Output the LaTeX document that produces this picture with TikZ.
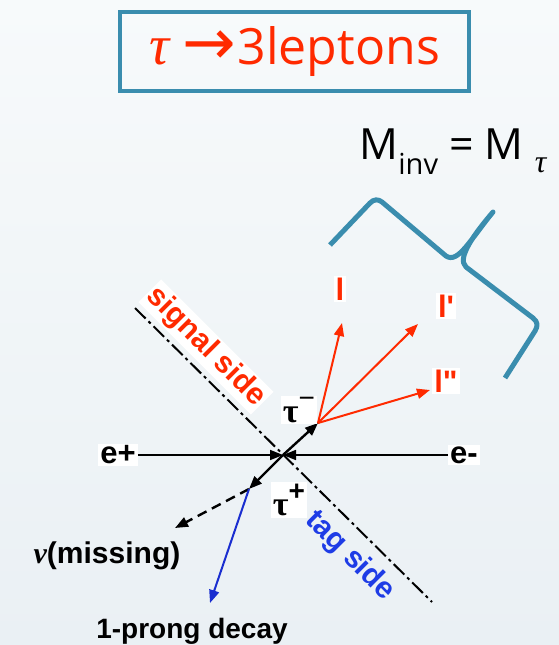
\documentclass[tikz,border=0pt]{standalone}
\usepackage{fontspec}
\setmainfont{Liberation Sans}[Ligatures=TeXOff]
\newfontfamily\titlefont{Open Sans}
\newfontfamily\greekfont{Liberation Serif}
\newfontfamily\arrowfont{DejaVu Sans}
\usetikzlibrary{arrows.meta}
\definecolor{boxblue}{HTML}{3A8DAE}
\definecolor{lepred}{HTML}{FF2A00}
\definecolor{tagblue}{HTML}{1E3CE6}
\definecolor{prongblue}{HTML}{1A2ED0}
\definecolor{bgtop}{HTML}{F7FAFB}
\definecolor{bgbot}{HTML}{EAF0F4}

\begin{document}
\begin{tikzpicture}[x=1pt,y=-1pt,>={Triangle[length=13pt,width=10pt]},
  lbl/.style={font=\fontsize{31}{33}\selectfont\bfseries,inner sep=2pt},
  wlbl/.style={lbl,fill=white},
  beam/.style={line width=1.6pt,->},
  tauarr/.style={line width=2.4pt,->},
  leparr/.style={line width=2pt,->,lepred},
  sideline/.style={line width=2pt,dash pattern=on 15pt off 4pt on 3pt off 4pt}]
\useasboundingbox (0,0) rectangle (559,645);
\fill[top color=bgtop,bottom color=bgbot] (0,0) rectangle (559,645);
% title and invariant mass
\node[draw=boxblue,line width=4pt,minimum width=349pt,minimum height=79pt,
  text=lepred,font=\titlefont\fontsize{50}{50}\selectfont] (title) at (294.5,51.5)
  {{\greekfont\itshape\fontsize{56}{56}\selectfont τ} {\arrowfont\fontsize{64}{64}\selectfont →}\hspace{2pt}3leptons};
\node[font=\titlefont\fontsize{43}{43}\selectfont] (minv) at (453,152)
  {M\raisebox{-0.35em}{\fontsize{29}{29}\selectfont inv} = M \raisebox{-0.3em}{\greekfont\itshape\fontsize{32}{32}\selectfont τ}};
\draw[boxblue,line width=5pt,line join=round]
  (330,245) -- (370,203) .. controls (374,199) and (378,199) .. (382,202)
  -- (446,256) .. controls (458,264) and (470,240) .. (493,212)
  .. controls (476,232) and (456,258) .. (466,267)
  -- (533,318) .. controls (538,322) and (538,326) .. (535,331) -- (505,378);
% the two sides
\draw[sideline] (135,308) -- (432,602);
\node[lbl,fill=white,text=lepred,rotate=-45,font=\fontsize{30}{32}\selectfont\bfseries] (sig) at (206,347) {signal side};
\node[lbl,text=tagblue,rotate=-45,font=\fontsize{30}{32}\selectfont\bfseries] (tag) at (350,556) {tag side};
% beams
\coordinate (ip) at (283,455);
\node[wlbl] (ep) at (118,455) {e+};
\node[wlbl] (em) at (464,455) {e-};
\draw[beam] (ep.east) -- (ip);
\draw[beam] (em.west) -- (ip);
% tau pair
\coordinate (taumtip) at (318,423);
\coordinate (tauptip) at (249,489);
\draw[tauarr] (ip) -- (taumtip);
\draw[tauarr] (ip) -- (tauptip);
\node[wlbl,font=\fontsize{34}{34}\selectfont] (taum) at (299,410)
  {{\greekfont\bfseries τ}\raisebox{0.42em}{\fontsize{28}{28}\selectfont −}};
\node[wlbl,font=\fontsize{34}{34}\selectfont] (taup) at (289,500)
  {{\greekfont\bfseries τ}\raisebox{0.42em}{\fontsize{28}{28}\selectfont\bfseries +}};
% signal leptons
\node[wlbl,text=lepred] (lone) at (340,289) {l};
\node[wlbl,text=lepred] (ltwo) at (446,306) {l'};
\node[wlbl,text=lepred] (lthree) at (446,381) {l"};
\coordinate (lonetip) at (342,323);
\coordinate (ltwotip) at (418,324);
\coordinate (lthreetip) at (430,390);
\draw[leparr] (taumtip) -- (lonetip);
\draw[leparr] (taumtip) -- (ltwotip);
\draw[leparr] (taumtip) -- (lthreetip);
% tag side decay
\coordinate (nutip) at (175,528);
\coordinate (prongtip) at (210,603);
\draw[line width=2.4pt,dash pattern=on 10pt off 6pt,->] (tauptip) -- (nutip);
\draw[line width=2pt,prongblue,->] (tauptip) -- (prongtip);
\node[lbl,font=\fontsize{30}{32}\selectfont\bfseries] (nu) at (107,556) {{\greekfont\itshape ν}(missing)};
\node[lbl,font=\fontsize{28}{30}\selectfont\bfseries] (prong) at (192,631) {1-prong decay};
\end{tikzpicture}
\end{document}
